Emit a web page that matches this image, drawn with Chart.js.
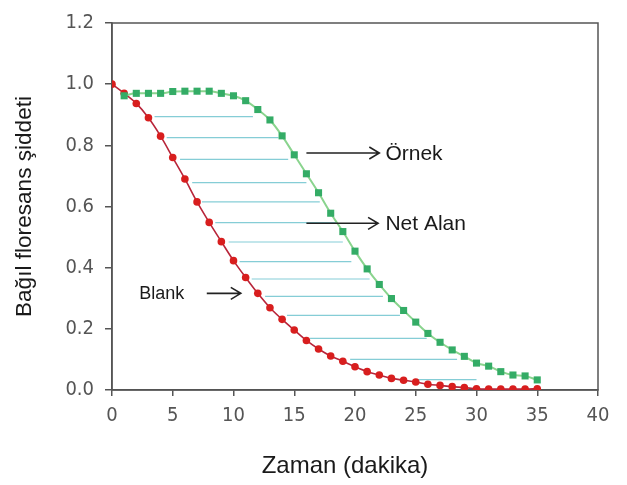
<!DOCTYPE html>
<html>
<head>
<meta charset="utf-8">
<script src="https://cdn.jsdelivr.net/npm/chart.js@4.4.1/dist/chart.umd.min.js"></script>
<style>
  html, body { margin: 0; padding: 0; background: #fff; }
  #wrap { width: 627px; height: 485px; position: relative; }
</style>
</head>
<body>
<div id="wrap"><canvas id="chart"></canvas></div>
<script>
// time (minutes)
const blankTime = [0, 1, 2, 3, 4, 5, 6, 7, 8, 9, 10, 11, 12, 13, 14, 15, 16, 17,
  18, 19, 20, 21, 22, 23, 24, 25, 26, 27, 28, 29, 30, 31, 32, 33, 34, 35];
const blankValues = [1.0, 0.97, 0.937, 0.89, 0.83, 0.76, 0.69, 0.615, 0.548, 0.485,
  0.423, 0.368, 0.316, 0.269, 0.231, 0.196, 0.162, 0.134, 0.111, 0.094, 0.076,
  0.060, 0.049, 0.038, 0.032, 0.026, 0.019, 0.015, 0.011, 0.008, 0.004, 0.003,
  0.003, 0.003, 0.003, 0.004];

const sampleTime = [1, 2, 3, 4, 5, 6, 7, 8, 9, 10, 11, 12, 13, 14, 15, 16, 17, 18,
  19, 20, 21, 22, 23, 24, 25, 26, 27, 28, 29, 30, 31, 32, 33, 34, 35];
const sampleValues = [0.962, 0.970, 0.970, 0.970, 0.976, 0.977, 0.977, 0.977, 0.970,
  0.962, 0.946, 0.917, 0.883, 0.831, 0.769, 0.707, 0.645, 0.578, 0.518, 0.454,
  0.396, 0.345, 0.299, 0.260, 0.222, 0.185, 0.156, 0.131, 0.110, 0.088, 0.078,
  0.060, 0.049, 0.046, 0.033];

// "net area" hatch lines between the two curves
const hatchLevels = [0.894, 0.825, 0.754, 0.678, 0.615, 0.547, 0.484, 0.42,
  0.363, 0.306, 0.244, 0.169, 0.10, 0.034];
const hatchFrom = [3.5, 4.5, 5.6, 6.6, 7.4, 8.5, 9.6, 10.5, 11.5, 12.6, 14.4,
  16.3, 19.6, 25.1];
const hatchTo = [11.6, 13.7, 14.5, 16.0, 17.1, 18.5, 19.0, 19.7, 21.2, 22.3,
  23.7, 25.9, 28.4, 30.0];

const xTicksMax = 40;
const yTicksMax = 1.2;

const notes = [
  { text: 'Örnek', x0: 16.0, x1: 22.0, y: 0.775, tx: 22.5, size: 21 },
  { text: 'Net Alan', x0: 16.0, x1: 21.9, y: 0.545, tx: 22.5, size: 21 },
  { text: 'Blank', x0: 7.8, x1: 10.6, y: 0.316, tx: 2.25, size: 18 }
];

const datasets = [];
datasets.push({
  label: 'Örnek',
  data: sampleTime.map((t, i) => ({ x: t, y: sampleValues[i] })),
  borderColor: '#8ad48e',
  borderWidth: 2,
  pointStyle: 'rect',
  pointRadius: 5,
  pointBackgroundColor: '#34ac66',
  pointBorderColor: '#34ac66',
  pointBorderWidth: 0,
  cubicInterpolationMode: 'monotone',
  order: 1
});
datasets.push({
  label: 'Blank',
  data: blankTime.map((t, i) => ({ x: t, y: blankValues[i] })),
  borderColor: '#b8253a',
  borderWidth: 1.6,
  pointStyle: 'circle',
  pointRadius: 3.8,
  pointBackgroundColor: '#d81e1e',
  pointBorderColor: '#d81e1e',
  pointBorderWidth: 0,
  cubicInterpolationMode: 'monotone',
  order: 2
});
hatchLevels.forEach((lv, i) => {
  datasets.push({
    label: 'hatch' + i,
    data: [{ x: hatchFrom[i], y: lv }, { x: hatchTo[i], y: lv }],
    borderColor: 'rgba(120, 200, 210, 0.9)',
    borderWidth: 1.2,
    pointRadius: 0,
    order: 3
  });
});

const boxAndNotes = {
  id: 'boxAndNotes',
  beforeDatasetsDraw(chart) {
    const a = chart.chartArea;
    const ctx = chart.ctx;
    ctx.save();
    ctx.strokeStyle = '#555';
    ctx.lineWidth = 1.5;
    ctx.strokeRect(a.left, a.top, a.right - a.left, a.bottom - a.top);
    ctx.restore();
  },
  afterDatasetsDraw(chart) {
    const ctx = chart.ctx;
    const xs = chart.scales.x, ys = chart.scales.y;
    ctx.save();
    notes.forEach(n => {
      const x0 = xs.getPixelForValue(n.x0);
      const x1 = xs.getPixelForValue(n.x1);
      const y = ys.getPixelForValue(n.y);
      ctx.strokeStyle = '#222';
      ctx.lineWidth = 1.6;
      ctx.beginPath();
      ctx.moveTo(x0, y);
      ctx.lineTo(x1, y);
      ctx.moveTo(x1 - 10, y - 6);
      ctx.lineTo(x1, y);
      ctx.lineTo(x1 - 10, y + 6);
      ctx.stroke();
      ctx.fillStyle = '#1a1a1a';
      ctx.font = n.size + 'px "Liberation Sans", Arial, sans-serif';
      ctx.textAlign = 'left';
      ctx.textBaseline = 'middle';
      ctx.fillText(n.text, xs.getPixelForValue(n.tx), y + 1);
    });
    ctx.restore();
  }
};

const tickFont = { family: '"Liberation Sans Narrow", "Arial Narrow", "DejaVu Sans Condensed", sans-serif', size: 20 };

new Chart(document.getElementById('chart'), {
  type: 'line',
  data: { datasets: datasets },
  plugins: [boxAndNotes],
  options: {
    responsive: true,
    maintainAspectRatio: false,
    animation: false,
    layout: { padding: { top: 14, right: 29, left: 0, bottom: 0 } },
    plugins: { legend: { display: false }, tooltip: { enabled: false } },
    scales: {
      x: {
        type: 'linear',
        min: 0,
        max: xTicksMax,
        afterFit: s => { s.height = 95; },
        ticks: { stepSize: 5, color: '#555', font: tickFont, padding: 8, maxRotation: 0 },
        grid: { drawOnChartArea: false, tickLength: 6, color: '#555', lineWidth: 1.5 },
        border: { color: '#555', width: 1.5 },
        // trailing spaces nudge the centred title a little to the left, as in the original
        title: { display: true, text: 'Zaman (dakika)\u00a0\u00a0\u00a0', color: '#1a1a1a',
          font: { family: '"Liberation Sans", Arial, sans-serif', size: 24 }, padding: { top: 0, bottom: 4 } }
      },
      y: {
        type: 'linear',
        min: 0,
        max: yTicksMax,
        afterFit: s => { s.width = 112; },
        ticks: { stepSize: 0.2, color: '#555', font: tickFont, padding: 11, callback: v => v.toFixed(1) },
        grid: { drawOnChartArea: false, tickLength: 7, color: '#555', lineWidth: 1.5 },
        border: { color: '#555', width: 1.5 },
        title: { display: true, text: 'Bağıl floresans şiddeti', color: '#1a1a1a',
          font: { family: '"Liberation Sans", Arial, sans-serif', size: 22.6 }, padding: { top: 11, bottom: 0 } }
      }
    }
  }
});
</script>
</body>
</html>
